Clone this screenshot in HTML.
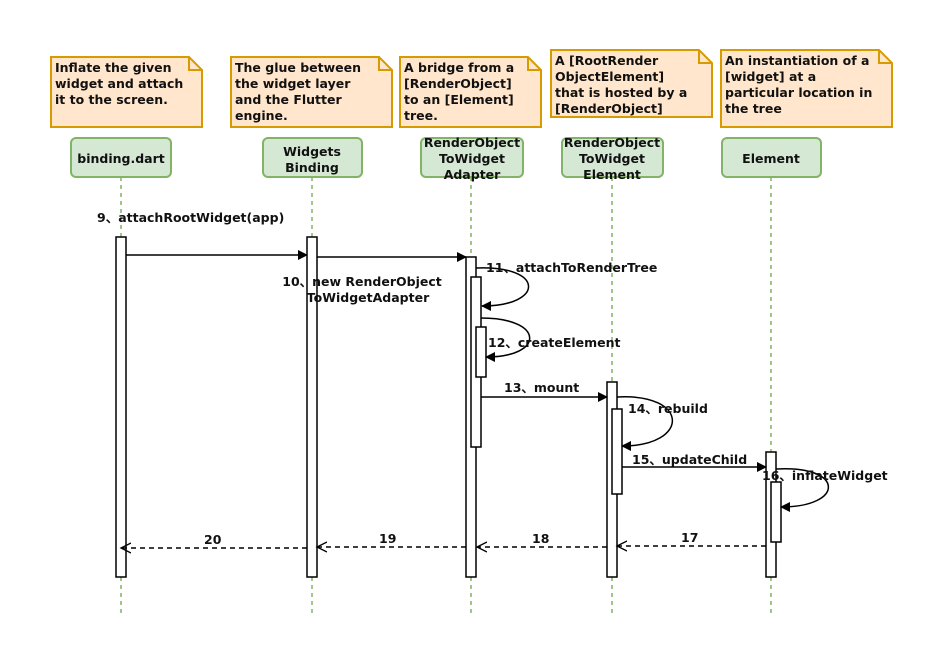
<!DOCTYPE html>
<html><head><meta charset="utf-8"><style>body{margin:0;background:#fff}svg{display:block}text{font-family:"DejaVu Sans","Liberation Sans",sans-serif;font-weight:bold;font-size:12.5px;fill:#111}</style></head><body>
<svg width="951" height="668" viewBox="0 0 951 668">
<defs><marker id="a" markerWidth="10" markerHeight="10" refX="9" refY="5" orient="auto" markerUnits="userSpaceOnUse"><path d="M0,0 L10,5 L0,10 z" fill="#000"/></marker>
<marker id="o" markerWidth="12" markerHeight="12" refX="10" refY="6" orient="auto" markerUnits="userSpaceOnUse"><path d="M0,1 L10,6 L0,11" fill="none" stroke="#000" stroke-width="1.3"/></marker></defs>
<g fill="#ffe6cc" stroke="#d79b00" stroke-width="2">
<path d="M51,57 H189 L202,70 V127 H51Z"/><path d="M189,57 V70 H202" fill="none"/>
<path d="M231,57 H379 L392,70 V127 H231Z"/><path d="M379,57 V70 H392" fill="none"/>
<path d="M400,57 H528 L541,70 V127 H400Z"/><path d="M528,57 V70 H541" fill="none"/>
<path d="M551,50 H699 L712,63 V117 H551Z"/><path d="M699,50 V63 H712" fill="none"/>
<path d="M721,50 H879 L892,63 V127 H721Z"/><path d="M879,50 V63 H892" fill="none"/>
</g>
<text x="55" y="72">Inflate the given</text><text x="55" y="88">widget and attach</text><text x="55" y="104">it to the screen.</text>
<text x="235" y="72">The glue between</text><text x="235" y="88">the widget layer</text><text x="235" y="104">and the Flutter</text><text x="235" y="120">engine.</text>
<text x="404" y="72">A bridge from a</text><text x="404" y="88">[RenderObject]</text><text x="404" y="104">to an [Element]</text><text x="404" y="120">tree.</text>
<text x="555" y="65">A [RootRender</text><text x="555" y="81">ObjectElement]</text><text x="555" y="97">that is hosted by a</text><text x="555" y="113">[RenderObject]</text>
<text x="725" y="65">An instantiation of a</text><text x="725" y="81">[widget] at a</text><text x="725" y="97">particular location in</text><text x="725" y="113">the tree</text>
<g stroke="#82b366" stroke-width="1.5" stroke-dasharray="4,4" fill="none">
<path d="M121,177V615M312,177V615M471,177V615M612,177V615M771,177V615"/></g>
<g fill="#d5e8d4" stroke="#82b366" stroke-width="2">
<rect x="71" y="138" width="100" height="39" rx="5"/><rect x="263" y="138" width="99" height="39" rx="5"/><rect x="421" y="138" width="102" height="39" rx="5"/><rect x="562" y="138" width="101" height="39" rx="5"/><rect x="722" y="138" width="99" height="39" rx="5"/></g>
<g text-anchor="middle"><text x="121" y="163">binding.dart</text><text x="312" y="156">Widgets</text><text x="312" y="172">Binding</text>
<text x="472" y="147">RenderObject</text><text x="472" y="163">ToWidget</text><text x="472" y="179">Adapter</text>
<text x="612" y="147">RenderObject</text><text x="612" y="163">ToWidget</text><text x="612" y="179">Element</text>
<text x="771" y="163">Element</text></g>
<g fill="#fff" stroke="#000" stroke-width="1.5">
<rect x="116" y="237" width="10" height="340"/><rect x="307" y="237" width="10" height="340"/><rect x="466" y="257" width="10" height="320"/><rect x="471" y="277" width="10" height="170"/><rect x="476" y="327" width="10" height="50"/><rect x="607" y="382" width="10" height="195"/><rect x="612" y="409" width="10" height="85"/><rect x="766" y="452" width="10" height="125"/><rect x="771" y="482" width="10" height="60"/></g>
<g stroke="#000" stroke-width="1.5" fill="none" marker-end="url(#a)">
<path d="M126,255H307"/><path d="M317,257H466"/>
<path d="M476,268C545,265 545,306 482,306"/>
<path d="M481,318C545,318 545,357 486,357"/>
<path d="M481,397H607"/>
<path d="M617,397C690,393 690,446 622,446"/>
<path d="M622,467H766"/>
<path d="M776,469C845,465 845,507 781,507"/>
</g>
<g stroke="#000" stroke-width="1.5" fill="none" stroke-dasharray="5,4" marker-end="url(#o)">
<path d="M766,546H617"/><path d="M607,547H477"/><path d="M466,547H317"/><path d="M307,548H121"/></g>
<text x="97" y="222">9、attachRootWidget(app)</text>
<text x="362" y="286" text-anchor="middle">10、new RenderObject</text><text x="368" y="302" text-anchor="middle">ToWidgetAdapter</text>
<text x="486" y="272">11、attachToRenderTree</text>
<text x="488" y="347">12、createElement</text>
<text x="504" y="392">13、mount</text>
<text x="628" y="413">14、rebuild</text>
<text x="632" y="464">15、updateChild</text>
<text x="762" y="480">16、inflateWidget</text>
<text x="681" y="542">17</text><text x="532" y="543">18</text><text x="379" y="543">19</text><text x="204" y="544">20</text>
</svg></body></html>
